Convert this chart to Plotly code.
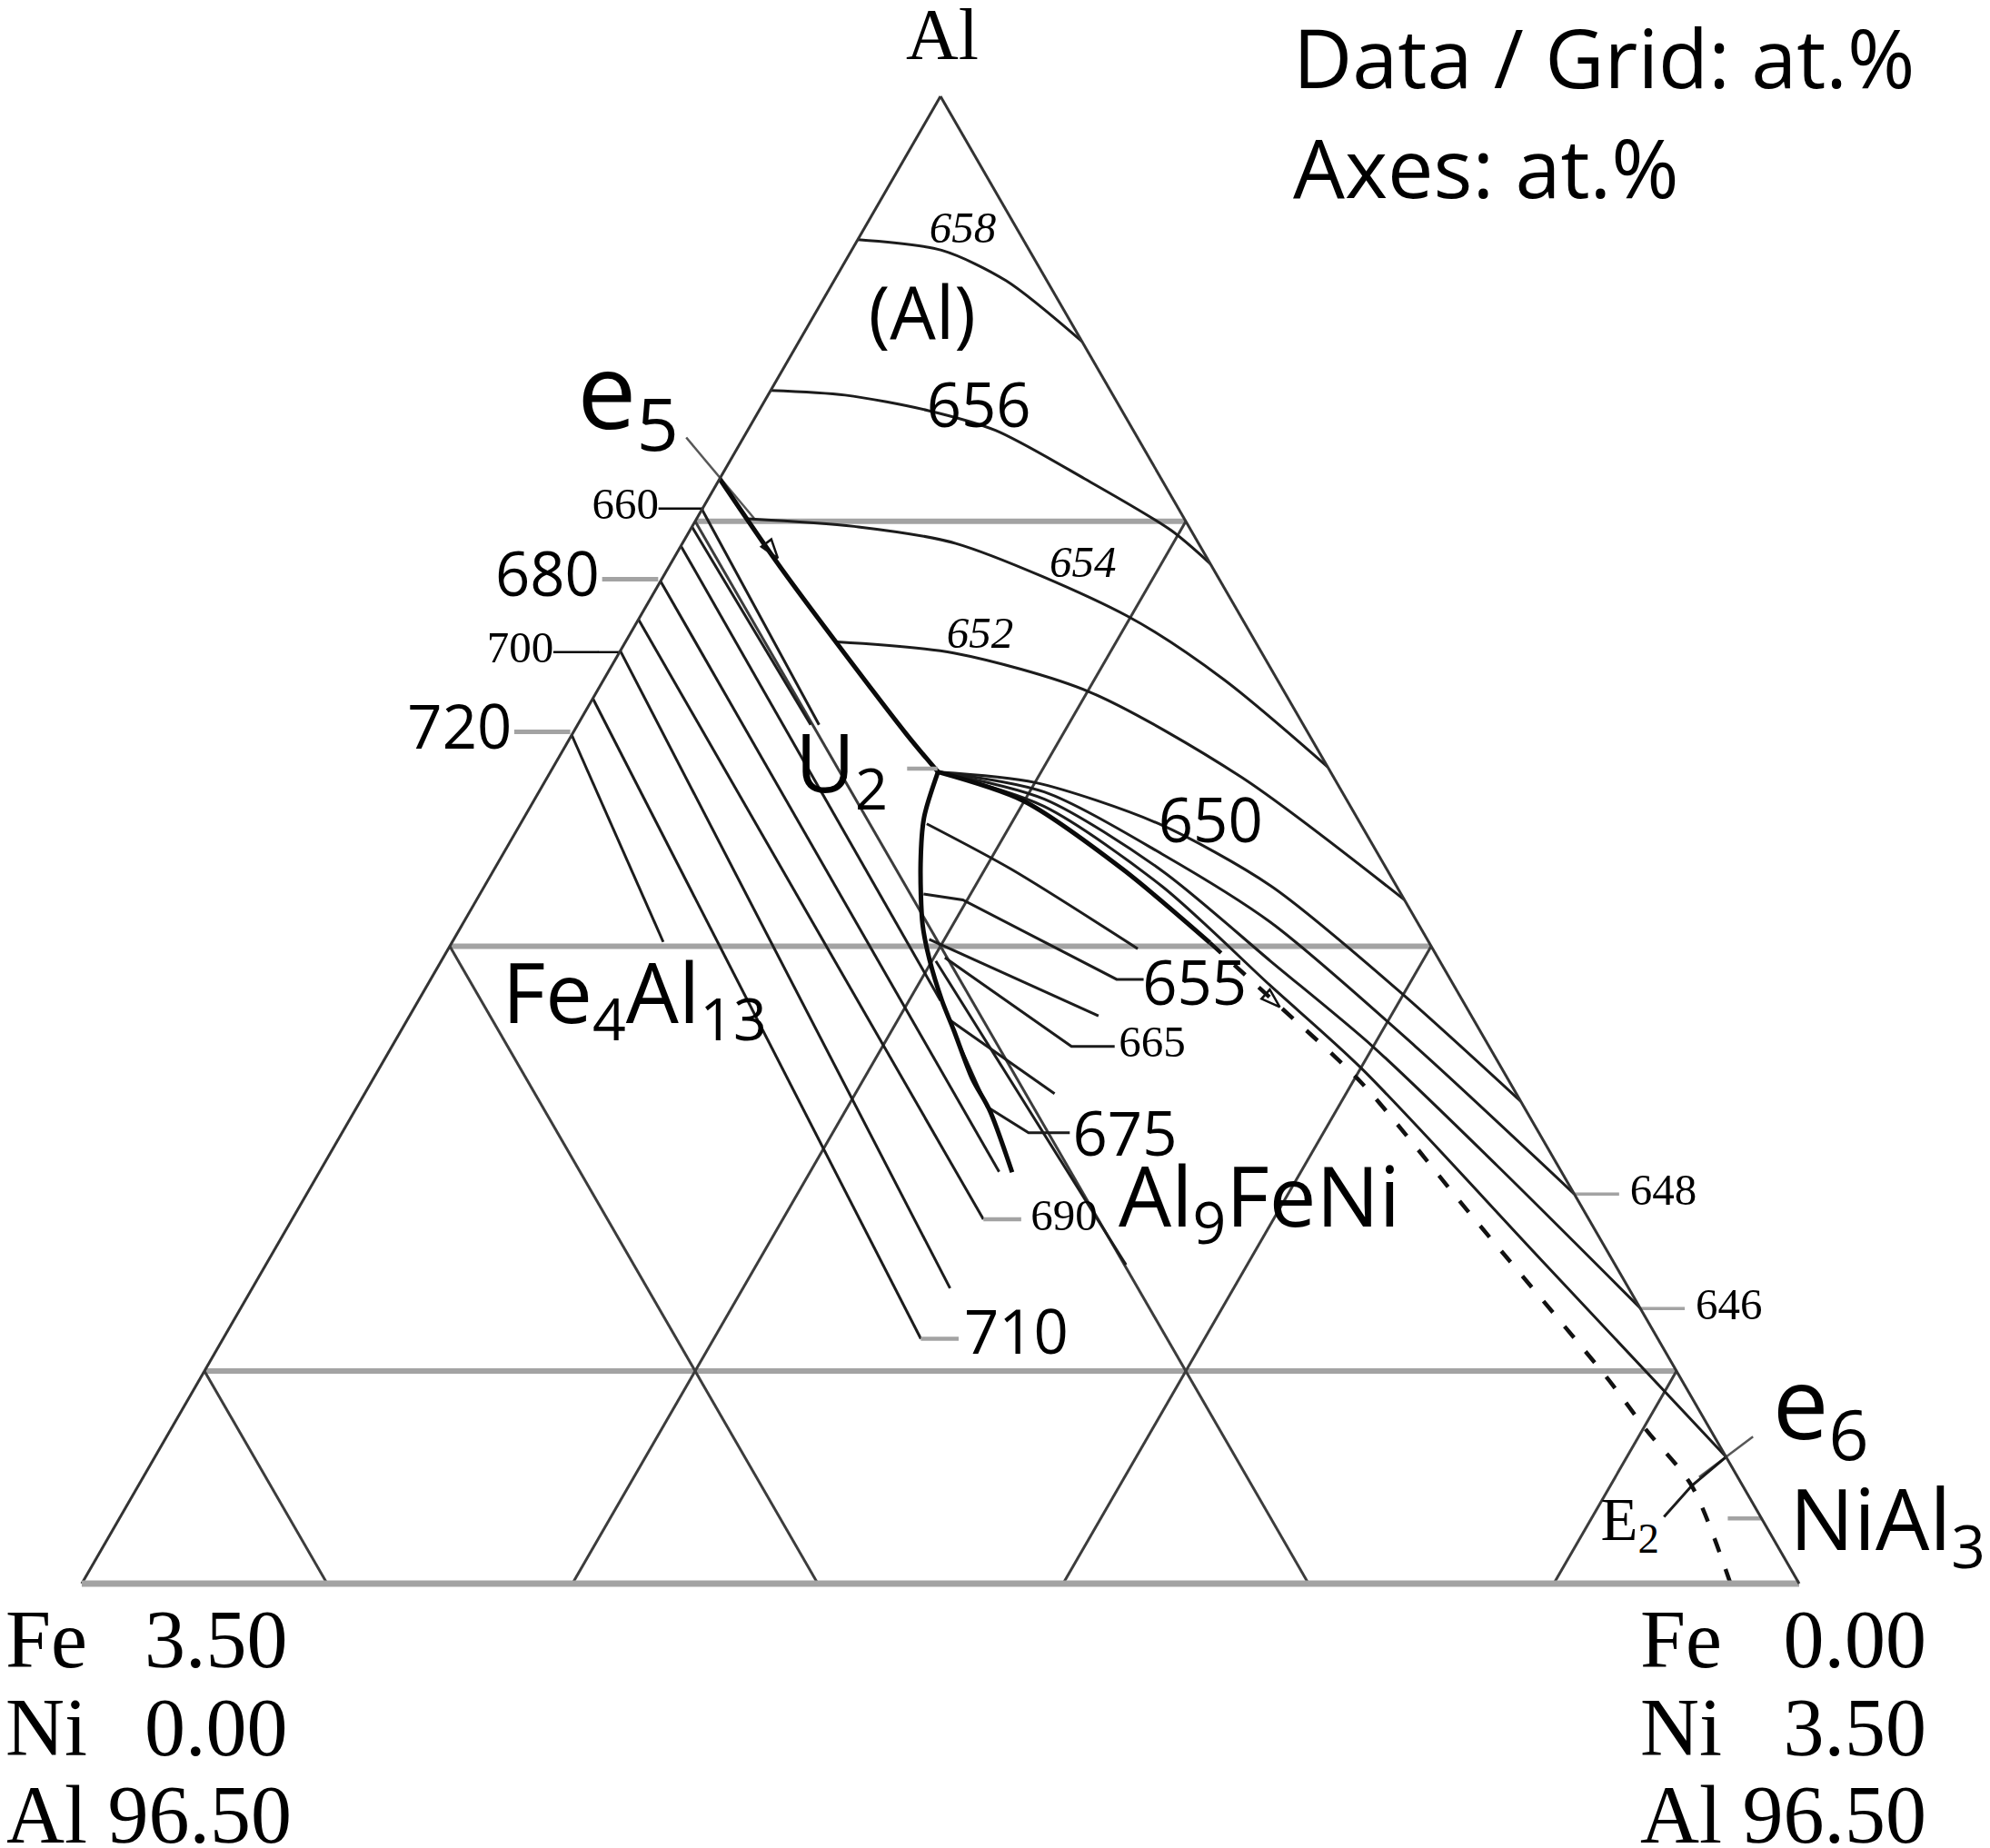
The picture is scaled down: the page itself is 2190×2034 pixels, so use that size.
import plotly.graph_objects as go

# page is 2190x2034; the html body has an 8px margin, so the figure is 8px smaller
PAGE_W, PAGE_H = 2190, 2034
BODY = 8
W, H = PAGE_W - BODY, PAGE_H - BODY
SANS = "Open Sans"
SERIF = "Liberation Serif"

# ---------------- composition window (at.%) ----------------
AL_MIN = 96.5
FE_MAX = 3.5
NI_MAX = 3.5
GRID_AL = [97, 98, 99]
GRID_FE = [1, 2, 3]
GRID_NI = [1, 2, 3]

# ---------------- univariant lines (Al, Ni at.%; Fe = balance) ----------------
E5_U2_AL = [99.10, 98.89, 98.50, 98.41]
E5_U2_NI = [0.00, 0.23, 0.68, 0.79]
U2_FE_AL = [98.41, 98.303, 98.195, 98.051, 97.969, 97.872, 97.801, 97.689, 97.613, 97.468]
U2_FE_NI = [0.79, 0.815, 0.862, 0.938, 0.993, 1.067, 1.127, 1.220, 1.294, 1.412]
U2_E2_AL = [98.41, 98.342, 98.181, 98.008]
U2_E2_NI = [0.79, 0.998, 1.281, 1.545]
E2_DASH_AL = [98.008, 97.866, 97.679, 97.372, 96.981, 96.862, 96.730, 96.50]
E2_DASH_NI = [1.545, 1.751, 2.018, 2.392, 2.870, 3.007, 3.166, 3.36]
E6_E2_AL = [96.657, 96.730, 96.798]
E6_E2_NI = [3.146, 3.166, 3.202]
# invariant points
E5_AL, E5_NI = 99.102, 0.0
E6_AL, E6_NI = 96.798, 3.202

# ---------------- liquidus isotherms, (Al) field ----------------
ISO658_AL = [99.663, 99.638, 99.566, 99.423]
ISO658_NI = [0.0, 0.183, 0.351, 0.577]
ISO656_AL = [99.308, 99.297, 99.261, 99.214, 99.100, 98.979, 98.900]
ISO656_NI = [0.0, 0.157, 0.343, 0.505, 0.744, 0.980, 1.100]
ISO654_AL = [99.006, 98.988, 98.948, 98.777, 98.628, 98.422]
ISO654_NI = [0.105, 0.330, 0.557, 0.992, 1.263, 1.578]
ISO652_AL = [98.716, 98.690, 98.599, 98.398, 98.109]
ISO652_NI = [0.431, 0.682, 1.003, 1.414, 1.891]
ISO650_AL = [98.41, 98.385, 98.288, 98.142, 97.898, 97.635]
ISO650_NI = [0.79, 1.001, 1.301, 1.602, 1.982, 2.365]
ISO648_AL = [98.41, 98.363, 98.217, 98.056, 97.764, 97.417]
ISO648_NI = [0.79, 1.030, 1.343, 1.645, 2.086, 2.583]
ISO646_AL = [98.41, 98.346, 98.178, 97.965, 97.764, 97.484, 97.149]
ISO646_NI = [0.79, 1.039, 1.362, 1.690, 1.999, 2.392, 2.851]
ISO_E6_AL = [98.41, 98.329, 98.141, 97.907, 97.713, 97.259, 96.798]
ISO_E6_NI = [0.79, 1.047, 1.381, 1.719, 2.001, 2.597, 3.202]

# ---------------- isotherms, Fe4Al13 field (start on the Al-Fe side, Ni = 0) ----------------
FE4_START_AL = [99.028, 98.987, 98.942, 98.859, 98.769, 98.695, 98.583, 98.497]
FE4_END_AL = [98.521, 98.521, 97.872, 97.469, 97.357, 97.195, 97.076, 98.010]
FE4_END_NI = [0.492, 0.475, 1.064, 1.385, 1.409, 1.422, 1.422, 0.430]

# ---------------- isotherms, Al9FeNi field ----------------
A1_AL = [98.288, 98.181, 97.994]
A1_NI = [0.828, 1.054, 1.405]
A655_AL = [98.123, 98.109, 97.922, 97.922]
A655_NI = [0.904, 0.991, 1.398, 1.453]
A3_AL = [98.016, 97.836]
A3_NI = [0.969, 1.404]
A665_AL = [97.973, 97.764, 97.764]
A665_NI = [1.0225, 1.385, 1.473]
A5_AL = [97.826, 97.653]
A5_NI = [1.106, 1.406]
A675_AL = [97.780, 97.622, 97.561, 97.561]
A675_NI = [1.144, 1.284, 1.399, 1.483]
A7_AL = [97.965, 97.250]
A7_NI = [1.008, 1.753]

# ---------------- grey leader ticks inside the triangle (U2, 690, 710, NiAl3) ----------------
TICK_AL = [[98.418, 98.418], [97.357, 97.357], [97.076, 97.076], [96.653, 96.653]]
TICK_NI = [[0.723, 0.785], [1.409, 1.486], [1.422, 1.499], [3.278, 3.347]]

# ---------------- direction arrows on univariant lines ----------------
ARROW_AL = [98.913, 97.857]
ARROW_NI = [0.212, 1.763]

# ---------------- labels inside the triangle (centred) ----------------
IN_TEXT = ["(Al)", "656", "650", "655", "675", "710",
           "Fe<sub>4</sub>Al<sub>13</sub>", "Al<sub>9</sub>FeNi", "U<sub>2</sub>",
           "<i>658</i>", "<i>654</i>", "<i>652</i>", "665", "690", "E<sub>2</sub>"]
IN_AL = [99.473, 99.258, 98.281, 97.898, 97.542, 97.077,
         97.869, 97.390, 98.411,
         99.682, 98.895, 98.729, 97.767, 97.358, 96.638]
IN_NI = [0.226, 0.449, 1.410, 1.569, 1.605, 1.616,
         0.442, 1.955, 0.593,
         0.2045, 0.843, 0.716, 1.548, 1.573, 3.086]
IN_FONT = [SANS] * 9 + [SERIF] * 6
IN_SIZE = [80, 67, 67, 67, 67, 67, 92, 92, 90, 49, 49, 49, 49, 49, 67]

# ---------------- labels anchored on the triangle edges ----------------
GREY = "#a3a3a3"
DASH_G = f"<span style='color:{GREY}'>\u2014</span>"
DASH_GB = f"<span style='color:{GREY}'><b>\u2014</b></span>"
nb = "\u00a0"
EDGE_TEXT = ["660\u2014", "680" + DASH_G, "700\u2014\u2013", "720" + DASH_G,
             DASH_GB + nb + "648", DASH_GB + nb + "646",
             nb + "\u2006e<sub>6</sub>", nb + "NiAl<sub>3</sub>", "e<sub>5</sub>" + nb * 2]
EDGE_AL = [99.033, 98.859, 98.695, 98.501, 97.417, 97.149, 96.782, 96.629, 99.156]
EDGE_NI = [0.0, 0.0, 0.0, 0.0, 2.583, 2.851, 3.218, 3.371, 0.0]
EDGE_FONT = [SERIF, SANS, SERIF, SANS, SERIF, SERIF, SANS, SANS, SANS]
EDGE_SIZE = [49, 67, 49, 67, 49, 49, 110, 94, 116]
EDGE_POS = ["middle left"] * 4 + ["middle right"] * 2 + ["top right", "middle right", "top left"]

# ---------------- styles ----------------
THIN = dict(width=3, color="#1c1c1c")
THICK = dict(width=5, color="#0a0a0a")

fig = go.Figure()


def fe_of(al, ni):
    return [round(100.0 - a - n, 4) for a, n in zip(al, ni)]


def add_line(al, ni, style, dash="solid", shape="spline"):
    fig.add_trace(go.Scatterternary(
        a=al, b=fe_of(al, ni), c=ni, mode="lines",
        line=dict(width=style["width"], color=style["color"], dash=dash,
                  shape=shape, smoothing=0.8),
        hoverinfo="skip", showlegend=False))


# isotherms
for al, ni in [(ISO658_AL, ISO658_NI), (ISO656_AL, ISO656_NI), (ISO654_AL, ISO654_NI),
               (ISO652_AL, ISO652_NI), (ISO650_AL, ISO650_NI), (ISO648_AL, ISO648_NI),
               (ISO646_AL, ISO646_NI), (ISO_E6_AL, ISO_E6_NI),
               (A1_AL, A1_NI), (A3_AL, A3_NI), (A5_AL, A5_NI), (A7_AL, A7_NI)]:
    add_line(al, ni, THIN)
for al, ni in [(A655_AL, A655_NI), (A665_AL, A665_NI), (A675_AL, A675_NI)]:
    add_line(al, ni, THIN, shape="linear")
for a0, a1, n1 in zip(FE4_START_AL, FE4_END_AL, FE4_END_NI):
    add_line([a0, a1], [0.0, n1], THIN, shape="linear")
add_line(E6_E2_AL, E6_E2_NI, THIN, shape="linear")

# univariant lines
add_line(E5_U2_AL, E5_U2_NI, THICK)
add_line(U2_FE_AL, U2_FE_NI, THICK)
add_line(U2_E2_AL, U2_E2_NI, THICK)
add_line(E2_DASH_AL, E2_DASH_NI, dict(width=4.5, color="#111"), dash="16px,20px")

# grey leader ticks inside
for al, ni in zip(TICK_AL, TICK_NI):
    add_line(al, ni, dict(width=4.5, color=GREY), shape="linear")

# leader lines through e5 and e6 that run out of the triangle (line markers)
fig.add_trace(go.Scatterternary(
    a=[E5_AL, E6_AL], b=fe_of([E5_AL, E6_AL], [E5_NI, E6_NI]), c=[E5_NI, E6_NI],
    mode="markers",
    marker=dict(symbol="line-ew", size=[83, 53], angle=[50, -37], color="#111",
                line=dict(color="#111", width=2.5)),
    cliponaxis=False, hoverinfo="skip", showlegend=False))

# arrows
fig.add_trace(go.Scatterternary(
    a=ARROW_AL, b=fe_of(ARROW_AL, ARROW_NI), c=ARROW_NI, mode="markers",
    marker=dict(symbol="arrow-open", size=22, angle=[143, 132], color="#111",
                line=dict(color="#111", width=2.5)),
    cliponaxis=False, hoverinfo="skip", showlegend=False))

# labels
for t, al, ni, fam, sz in zip(IN_TEXT, IN_AL, IN_NI, IN_FONT, IN_SIZE):
    fig.add_trace(go.Scatterternary(
        a=[al], b=fe_of([al], [ni]), c=[ni], mode="text", text=[t],
        textposition="middle center", textfont=dict(family=fam, size=sz, color="black"),
        cliponaxis=False, hoverinfo="skip", showlegend=False))
for t, al, ni, fam, sz, pos in zip(EDGE_TEXT, EDGE_AL, EDGE_NI, EDGE_FONT, EDGE_SIZE, EDGE_POS):
    fig.add_trace(go.Scatterternary(
        a=[al], b=fe_of([al], [ni]), c=[ni], mode="text", text=[t],
        textposition=pos, textfont=dict(family=fam, size=sz, color="black"),
        cliponaxis=False, hoverinfo="skip", showlegend=False))

# corner compositions, apex name and units note (page px -> figure paper coords)
def px(x):
    return (x - BODY) / W


def py(y):
    return 1 - (y - BODY) / H


corner_left = [f"Fe{nb*2}\u2009{FE_MAX:.2f}", f"Ni{nb*2}\u2009{0:.2f}", f"Al{nb}{AL_MIN:.2f}"]
corner_right = [f"Fe{nb*3}{0:.2f}", f"Ni{nb*3}{NI_MAX:.2f}", f"Al{nb}{AL_MIN:.2f}"]
tops_px = [1752.8, 1849.5, 1945.8]
annotations = []
for txt_l, txt_r, ty in zip(corner_left, corner_right, tops_px):
    for txt, xp in [(txt_l, 4), (txt_r, 1803)]:
        annotations.append(dict(text=txt, xref="paper", yref="paper", x=px(xp), y=py(ty),
                                xanchor="left", yanchor="top", showarrow=False,
                                font=dict(family=SERIF, size=90, color="black")))
for txt, ty in [("Data / Grid: at.%", -1.2), ("Axes: at.%", 119.8)]:
    annotations.append(dict(text=txt, xref="paper", yref="paper", x=px(1421), y=py(ty),
                            xanchor="left", yanchor="top", showarrow=False,
                            font=dict(family=SANS, size=90, color="black")))
annotations.append(dict(text="Al", xref="paper", yref="paper", x=px(1037), y=py(-8),
                        xanchor="center", yanchor="top", showarrow=False,
                        font=dict(family=SERIF, size=80, color="black")))

axis_common = dict(showticklabels=False, ticks="", title=dict(text=""), tickmode="array",
                   showgrid=True, layer="above traces")
fig.update_layout(
    width=W, height=H, autosize=False,
    margin=dict(l=0, r=0, t=0, b=0, pad=0),
    paper_bgcolor="white", plot_bgcolor="white",
    showlegend=False, hovermode=False,
    annotations=annotations,
    ternary=dict(
        sum=100,
        bgcolor="white",
        domain=dict(x=[px(90), px(1980)], y=[py(1743), py(106)]),
        aaxis=dict(min=AL_MIN, tickvals=GRID_AL, gridcolor=GREY, gridwidth=6,
                   linecolor="#333", linewidth=3, **axis_common),
        baxis=dict(min=0, tickvals=GRID_FE, gridcolor="#3c3c3c", gridwidth=2.5,
                   linecolor=GREY, linewidth=7, **axis_common),
        caxis=dict(min=0, tickvals=GRID_NI, gridcolor="#3c3c3c", gridwidth=2.5,
                   linecolor="#333", linewidth=3, **axis_common),
    ),
)

fig.write_html("out.html")
